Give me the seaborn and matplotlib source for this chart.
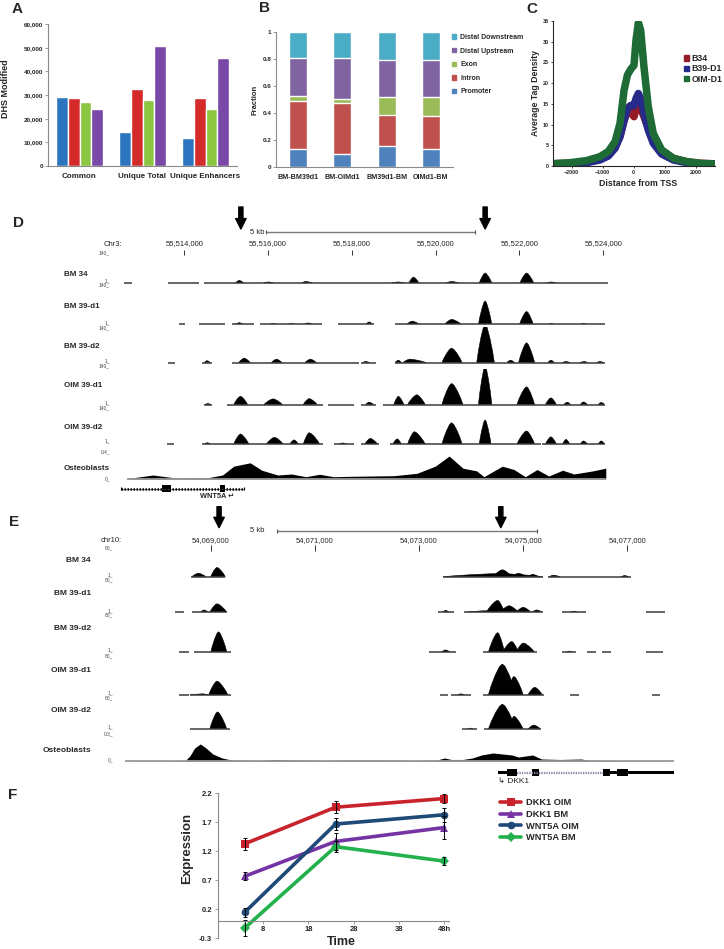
import matplotlib
matplotlib.use("Agg")
import matplotlib.pyplot as plt
from matplotlib.lines import Line2D
from matplotlib.patches import Patch
import pandas as pd
import seaborn as sns

sns.set_style("white")
plt.rcParams["font.family"] = ["Liberation Sans", "DejaVu Sans"]
plt.rcParams["axes.linewidth"] = 0.8

# ---------------- data ----------------
# A: DHS counts
dhs_groups = ["Common", "Unique Total", "Unique Enhancers"]
dhs_sets = ["set1", "set2", "set3", "set4"]
dhs_set1 = [29000, 14300, 12000]
dhs_set2 = [28800, 32700, 28700]
dhs_set3 = [27000, 28000, 24200]
dhs_set4 = [24200, 50800, 45500]
dhs_colors = ["#2C74BE", "#D42A2A", "#8CC540", "#7A48A6"]

# B: genomic distribution (fractions)
region_samples = ["BM-BM39d1", "BM-OIMd1", "BM39d1-BM", "OIMd1-BM"]
frac_promoter = [0.135, 0.10, 0.155, 0.135]
frac_intron = [0.355, 0.375, 0.23, 0.24]
frac_exon = [0.035, 0.03, 0.13, 0.145]
frac_upstream = [0.285, 0.30, 0.28, 0.275]
frac_downstream = [0.19, 0.195, 0.205, 0.205]
region_names = ["Promoter", "Intron", "Exon", "Distal Upstream", "Distal Downstream"]
region_colors = ["#4F81BD", "#C0504D", "#9BBB59", "#8064A2", "#4BACC6"]

# C: tag density around TSS
tss_pos = [-2540, -2050, -1520, -1090, -820, -600, -440, -310, -200, -100, 10,
           75, 150, 225, 330, 470, 630, 900, 1280, 1710, 2140, 2570]
tag_b34 = [0.55, 0.65, 0.95, 1.6, 2.65, 4.5, 7.2, 10.9, 13.5, 13.0, 11.9,
           13.9, 14.7, 13.9, 11.9, 9.1, 6.3, 3.7, 1.85, 1.05, 0.65, 0.55]
tag_b39 = [0.5, 0.55, 0.8, 1.45, 2.4, 4.3, 7.1, 11.1, 13.9, 14.6, 14.6,
           16.3, 17.5, 16.3, 12.7, 8.7, 5.5, 2.9, 1.45, 0.8, 0.55, 0.5]
tag_oim = [0.6, 0.8, 1.3, 2.25, 3.5, 5.9, 10.3, 18.3, 22.0, 23.3, 24.3,
           30.4, 34.6, 32.8, 24.0, 14.3, 7.9, 3.9, 1.85, 1.05, 0.65, 0.5]
tag_names = ["B34", "B39-D1", "OIM-D1"]
tag_colors = ["#951B28", "#262A88", "#1E6B35"]

# D: WNT5A locus (kb on chr3); peaks = (start, summit, end, height)
d_ruler_kb = [55514, 55516, 55518, 55520, 55522, 55524]
d_arrow_kb = [55515.35, 55521.18]
d_scalebar_kb = (55515.95, 55520.95)
d_names = ["BM 34", "BM 39-d1", "BM 39-d2", "OIM 39-d1", "OIM 39-d2"]
d_bm34_segments = [(55512.56, 55512.75), (55513.60, 55514.35), (55514.48, 55524.11)]
d_bm34_peaks = [(55515.22, 55515.31, 55515.42, 10), (55515.90, 55516.01, 55516.12, 4),
                (55516.80, 55516.90, 55517.05, 6), (55518.95, 55519.11, 55519.25, 4),
                (55519.36, 55519.47, 55519.60, 23), (55520.25, 55520.38, 55520.55, 6),
                (55521.04, 55521.18, 55521.34, 39), (55522.01, 55522.17, 55522.34, 39),
                (55522.65, 55522.75, 55522.88, 4)]
d_bm39d1_segments = [(55513.88, 55514.02), (55514.35, 55514.96), (55515.13, 55515.66),
                     (55515.81, 55517.28), (55517.67, 55518.53), (55519.03, 55524.03)]
d_bm39d1_peaks = [(55515.22, 55515.31, 55515.42, 7), (55516.02, 55516.12, 55516.22, 4),
                  (55516.46, 55516.56, 55516.66, 4), (55516.85, 55516.95, 55517.08, 6),
                  (55518.33, 55518.41, 55518.50, 10), (55519.30, 55519.44, 55519.62, 13),
                  (55520.21, 55520.38, 55520.62, 20), (55521.02, 55521.18, 55521.34, 92),
                  (55522.00, 55522.17, 55522.33, 51), (55522.68, 55522.75, 55522.85, 4),
                  (55523.45, 55523.53, 55523.62, 4)]
d_bm39d2_segments = [(55513.61, 55513.78), (55514.43, 55514.66), (55515.13, 55518.17),
                     (55518.22, 55518.57), (55519.03, 55524.03)]
d_bm39d2_peaks = [(55514.48, 55514.54, 55514.62, 7), (55515.30, 55515.43, 55515.57, 17),
                  (55516.08, 55516.20, 55516.33, 13), (55516.88, 55517.01, 55517.15, 13),
                  (55518.26, 55518.33, 55518.42, 4), (55519.03, 55519.11, 55519.18, 9),
                  (55519.22, 55519.38, 55519.77, 13), (55520.15, 55520.38, 55520.63, 56),
                  (55520.98, 55521.18, 55521.40, 150), (55521.70, 55521.79, 55521.88, 9),
                  (55521.98, 55522.17, 55522.36, 77), (55522.68, 55522.75, 55522.83, 9),
                  (55523.03, 55523.11, 55523.20, 4), (55523.45, 55523.55, 55523.62, 4),
                  (55523.85, 55523.92, 55524.00, 4)]
d_oim39d1_segments = [(55514.46, 55514.66), (55515.02, 55517.30), (55517.43, 55518.06),
                      (55518.22, 55518.57), (55518.75, 55524.03)]
d_oim39d1_peaks = [(55514.50, 55514.56, 55514.63, 4), (55515.18, 55515.34, 55515.51, 32),
                   (55515.90, 55516.12, 55516.34, 22), (55516.84, 55516.98, 55517.17, 23),
                   (55518.33, 55518.41, 55518.52, 9), (55519.00, 55519.11, 55519.24, 32),
                   (55519.33, 55519.55, 55519.75, 38), (55520.15, 55520.38, 55520.65, 82),
                   (55521.02, 55521.18, 55521.34, 150), (55521.94, 55522.17, 55522.36, 69),
                   (55522.62, 55522.75, 55522.88, 26), (55523.06, 55523.14, 55523.22, 9),
                   (55523.45, 55523.53, 55523.62, 10), (55523.88, 55523.95, 55524.03, 8)]
d_oim39d2_segments = [(55513.58, 55513.75), (55514.43, 55517.30), (55517.58, 55518.06),
                      (55518.22, 55518.64), (55518.92, 55522.51), (55522.53, 55524.03)]
d_oim39d2_peaks = [(55514.49, 55514.55, 55514.62, 5), (55515.18, 55515.34, 55515.54, 39),
                   (55515.96, 55516.15, 55516.36, 26), (55516.52, 55516.62, 55516.72, 16),
                   (55516.84, 55516.98, 55517.23, 44), (55517.70, 55517.78, 55517.86, 4),
                   (55518.31, 55518.44, 55518.61, 22), (55518.98, 55519.08, 55519.18, 20),
                   (55519.33, 55519.49, 55519.75, 48), (55520.15, 55520.38, 55520.63, 83),
                   (55521.04, 55521.18, 55521.32, 94), (55521.94, 55522.17, 55522.36, 51),
                   (55522.62, 55522.75, 55522.88, 28), (55523.03, 55523.11, 55523.20, 18),
                   (55523.45, 55523.53, 55523.62, 12), (55523.88, 55523.95, 55524.03, 12)]
d_osteo_pos = [55512.64, 55513.25, 55513.80, 55514.57, 55514.91, 55515.18, 55515.57,
               55515.85, 55516.23, 55516.56, 55516.90, 55517.23, 55517.56, 55518.00,
               55518.44, 55519.00, 55519.55, 55519.99, 55520.32, 55520.65, 55520.98,
               55521.15, 55521.59, 55521.87, 55522.14, 55522.42, 55522.70, 55523.03,
               55523.30, 55523.75, 55524.06]
d_osteo_val = [0.007, 0.059, 0.015, 0.02, 0.059, 0.19, 0.24, 0.13, 0.059, 0.074,
               0.034, 0.07, 0.034, 0.04, 0.044, 0.049, 0.084, 0.19, 0.34, 0.16, 0.12,
               0.034, 0.19, 0.14, 0.034, 0.14, 0.044, 0.13, 0.074, 0.12, 0.16]
wnt5a_span = (55512.49, 55515.43)
wnt5a_exons = [(55513.47, 55513.69), (55514.84, 55514.96)]

# E: DKK1 locus (kb on chr10)
e_ruler_kb = [54069, 54071, 54073, 54075, 54077]
e_arrow_kb = [54069.16, 54074.57]
e_scalebar_kb = (54070.27, 54075.27)
e_bm34_segments = [(54068.62, 54069.28), (54073.46, 54075.38), (54075.47, 54077.06)]
e_bm34_peaks = [(54068.64, 54068.76, 54068.91, 9), (54069.00, 54069.12, 54069.28, 24),
                (54073.46, 54074.55, 54075.38, 8), (54074.42, 54074.60, 54074.78, 18),
                (54074.78, 54074.91, 54075.05, 9), (54075.09, 54075.18, 54075.30, 6),
                (54075.50, 54075.58, 54075.70, 4), (54076.88, 54076.95, 54077.02, 3)]
e_bm39d1_segments = [(54068.32, 54068.49), (54068.64, 54069.31), (54073.36, 54073.67),
                     (54073.87, 54075.37), (54075.74, 54076.21), (54077.35, 54077.73)]
e_bm39d1_peaks = [(54068.80, 54068.87, 54068.96, 6), (54068.98, 54069.12, 54069.31, 22),
                  (54073.45, 54073.51, 54073.58, 5), (54073.87, 54074.29, 54074.40, 4),
                  (54074.29, 54074.51, 54074.64, 31), (54074.55, 54074.73, 54074.91, 17),
                  (54074.86, 54075.00, 54075.15, 13), (54075.16, 54075.26, 54075.37, 6),
                  (54075.90, 54075.98, 54076.05, 3)]
e_bm39d2_segments = [(54068.40, 54068.58), (54068.67, 54069.38), (54073.20, 54073.71),
                     (54074.22, 54075.26), (54075.75, 54076.02), (54076.23, 54076.39),
                     (54076.51, 54076.69), (54077.35, 54077.68)]
e_bm39d2_peaks = [(54069.00, 54069.15, 54069.31, 53), (54073.42, 54073.51, 54073.60, 6),
                  (54074.33, 54074.51, 54074.64, 51), (54074.60, 54074.78, 54074.91, 28),
                  (54074.86, 54075.00, 54075.22, 24), (54075.82, 54075.89, 54075.96, 3)]
e_oim39d1_segments = [(54068.40, 54068.58), (54068.60, 54069.38), (54073.40, 54073.55),
                      (54073.62, 54074.00), (54074.22, 54075.40), (54075.90, 54076.08),
                      (54077.47, 54077.62)]
e_oim39d1_peaks = [(54068.60, 54068.85, 54068.96, 3), (54068.96, 54069.12, 54069.33, 36),
                   (54073.74, 54073.80, 54073.87, 3), (54074.33, 54074.60, 54074.86, 80),
                   (54074.69, 54074.82, 54075.00, 48), (54075.09, 54075.22, 54075.37, 20)]
e_oim39d2_segments = [(54068.60, 54069.37), (54073.82, 54074.11), (54074.24, 54075.35)]
e_oim39d2_peaks = [(54068.98, 54069.13, 54069.31, 45), (54073.92, 54073.98, 54074.05, 3),
                   (54074.33, 54074.60, 54074.86, 65), (54074.73, 54074.82, 54075.00, 34),
                   (54075.09, 54075.20, 54075.34, 11)]
e_osteo_pos = [54067.36, 54068.51, 54068.60, 54068.69, 54068.80, 54068.91, 54069.04,
               54069.22, 54069.40, 54069.93, 54070.20, 54070.64, 54071.18, 54071.71,
               54072.20, 54072.95, 54073.34, 54073.49, 54073.62, 54073.84, 54074.02,
               54074.20, 54074.42, 54074.60, 54074.78, 54074.91, 54075.18, 54075.35,
               54075.71, 54076.11, 54076.24, 54076.51, 54077.89]
e_osteo_val = [0, 0.006, 0.056, 0.144, 0.189, 0.144, 0.078, 0.033, 0.011, 0.006, 0.017,
               0.011, 0.006, 0.011, 0.011, 0.006, 0.011, 0.033, 0.017, 0.017, 0.033,
               0.067, 0.089, 0.078, 0.067, 0.044, 0.067, 0.022, 0.017, 0.022, 0.011,
               0.006, 0]
dkk1_exons = [(54074.69, 54074.89), (54075.16, 54075.31), (54076.54, 54076.67), (54076.80, 54077.02)]
dkk1_utrs = [(54074.51, 54074.69), (54076.67, 54076.80), (54077.02, 54077.89)]
dkk1_intron = (54074.89, 54076.54)

# F: expression time course
time_h = [4, 24, 48]
expr_names = ["DKK1 OIM", "DKK1 BM", "WNT5A OIM", "WNT5A BM"]
expr_dkk1_oim = [1.33, 1.96, 2.11]
expr_dkk1_bm = [0.77, 1.37, 1.61]
expr_wnt5a_oim = [0.15, 1.67, 1.83]
expr_wnt5a_bm = [-0.12, 1.28, 1.03]
err_dkk1_oim = [0.1, 0.1, 0.07]
err_dkk1_bm = [0.07, 0.15, 0.2]
err_wnt5a_oim = [0.08, 0.1, 0.12]
err_wnt5a_bm = [0.14, 0.1, 0.07]
expr_colors = ["#C8232B", "#7534A3", "#1F4A78", "#22B14C"]
expr_markers = ["s", "^", "o", "D"]

# ---------------- figure ----------------
W, H = 724, 949
fig = plt.figure(figsize=(W / 100, H / 100), dpi=100)


def box(left, top, width, height):
    # axes in pixel units from the top-left corner
    return fig.add_axes([left / W, 1 - (top + height) / H, width / W, height / H])


def label(x, y, s, size=6, bold=True, **kw):
    kw.setdefault("ha", "left")
    kw.setdefault("va", "center")
    fig.text(x / W, 1 - y / H, s, fontsize=size,
             fontweight="bold" if bold else "normal", **kw)


def bold_ticks(ax):
    for t in ax.get_xticklabels() + ax.get_yticklabels():
        t.set_fontweight("bold")


def grey_axes(ax):
    sns.despine(ax=ax)
    for s in ["left", "bottom"]:
        ax.spines[s].set_color("#8a8a8a")
        ax.spines[s].set_linewidth(0.8)


# panel letters
for x, y, s in [(17, 9, "A"), (265, 8, "B"), (532, 9, "C"), (18, 223, "D"),
                (14, 522, "E"), (13, 795, "F")]:
    label(x, y, s, size=11, ha="center")

# ---- A ----
ax = box(48, 24, 189, 142)
df_a = pd.DataFrame({
    "group": dhs_groups * 4,
    "set": [n for n in dhs_sets for _ in dhs_groups],
    "value": dhs_set1 + dhs_set2 + dhs_set3 + dhs_set4,
})
sns.barplot(data=df_a, x="group", y="value", hue="set", palette=dhs_colors,
            width=0.76, gap=0, saturation=1, errorbar=None, legend=False, ax=ax)
ax.set_ylim(0, 60000)
ax.set_yticks(range(0, 60001, 10000))
ax.set_yticklabels([f"{v:,}" for v in range(0, 60001, 10000)])
ax.set_xlabel("")
ax.set_ylabel("")
ax.tick_params(axis="y", labelsize=4.6, length=2, width=0.6, color="#8a8a8a", pad=1.5, left=True)
ax.tick_params(axis="x", labelsize=5.8, length=0, pad=5)
bold_ticks(ax)
grey_axes(ax)
label(6, 89, "DHS Modified", size=6.5, rotation=90, ha="center")

# ---- B ----
ax = box(276, 32, 177, 135)
for i in range(len(region_names) - 1, -1, -1):
    layers = [frac_promoter, frac_intron, frac_exon, frac_upstream, frac_downstream][: i + 1]
    cum = [sum(v) for v in zip(*layers)]
    sns.barplot(x=region_samples, y=cum, color=region_colors[i], width=0.41,
                saturation=1, errorbar=None, ax=ax)
ax.set_ylim(0, 1)
ax.set_yticks([0, 0.2, 0.4, 0.6, 0.8, 1])
ax.set_yticklabels(["0", "0.2", "0.4", "0.6", "0.8", "1"])
ax.tick_params(axis="y", labelsize=4.6, length=2, width=0.6, color="#8a8a8a", pad=1.5, left=True)
ax.tick_params(axis="x", labelsize=5.1, length=0, pad=5)
bold_ticks(ax)
grey_axes(ax)
label(255, 100, "Fraction", size=5.5, rotation=90, ha="center")
handles = [Patch(color=c, label=n) for n, c in zip(region_names, region_colors)][::-1]
fig.legend(handles=handles, loc="upper left", bbox_to_anchor=(452 / W, 1 - 34 / H),
           frameon=False, prop={"size": 5, "weight": "bold"}, handlelength=0.6,
           handleheight=0.6, handletextpad=0.6, labelspacing=0.95, borderpad=0,
           borderaxespad=0)

# ---- C ----
ax = box(553, 21, 162, 145)
for vals, c in zip([tag_b34, tag_b39, tag_oim], tag_colors):
    sns.lineplot(x=tss_pos, y=vals, color=c, linewidth=5.4, ax=ax)
ax.set_xlim(-2600, 2620)
ax.set_ylim(0, 35)
ax.set_xticks([-2000, -1000, 0, 1000, 2000])
ax.set_yticks(range(0, 36, 5))
ax.tick_params(labelsize=3.9, length=1.5, width=0.6, pad=1.5, left=True, bottom=True)
bold_ticks(ax)
sns.despine(ax=ax)
label(535, 93, "Average Tag Density", size=6.3, rotation=90, ha="center")
label(638, 183, "Distance from TSS", size=6.3, ha="center")
handles = [Patch(color=c, label=n) for n, c in zip(tag_names, tag_colors)]
fig.legend(handles=handles, loc="upper left", bbox_to_anchor=(684 / W, 1 - 54 / H),
           frameon=False, prop={"size": 6.3, "weight": "bold"}, handlelength=0.55,
           handleheight=0.55, handletextpad=0.3, labelspacing=0.15, borderpad=0,
           borderaxespad=0)


# ---- genome browser helpers ----
def draw_peaks(ax, segments, peaks):
    for s, e in segments:
        ax.hlines(0, s, e, colors="#3c3c3c", lw=1.1, clip_on=False)
    for s, m, e, h in peaks:
        left, right = m - s, e - m
        xs = [s, s + 0.2 * left, s + 0.5 * left, s + 0.8 * left, m,
              m + 0.2 * right, m + 0.5 * right, m + 0.8 * right, e]
        ys = [0, 0.3 * h, 0.65 * h, 0.92 * h, h, 0.92 * h, 0.65 * h, 0.3 * h, 0]
        ax.fill(xs, ys, color="black", lw=0.4)


def draw_profile(ax, pos, vals):
    ax.hlines(0, pos[0], pos[-1], colors="#9a9a9a", lw=1.3, clip_on=False)
    ax.fill_between(pos, 0, vals, color="black", lw=0)


def header(top, height, xlim, left, width, ruler, arrows, bar, arrow_y, bar_y, tick_y, lab_y):
    hd = box(left, top, width, height)
    hd.set_xlim(*xlim)
    hd.set_ylim(top + height, top)
    hd.axis("off")
    for kb in arrows:
        hd.annotate("", xy=(kb, arrow_y[1]), xytext=(kb, arrow_y[0]),
                    arrowprops=dict(arrowstyle="simple,head_length=0.75,head_width=0.75,tail_width=0.3",
                                    fc="black", ec="black", mutation_scale=10,
                                    shrinkA=0, shrinkB=0))
    hd.plot(bar, [bar_y, bar_y], color="#7a7a7a", lw=1)
    hd.vlines(bar, bar_y - 2, bar_y + 2, color="#555555", lw=0.8)
    hd.vlines(ruler, tick_y[0], tick_y[1], color="#333333", lw=0.7)
    for kb in ruler:
        hd.text(kb, lab_y, f"{round(kb * 1000):,}", ha="center", va="center", fontsize=5.5)
    return hd


# ---- D ----
D_LEFT, D_WIDTH = 80, 535
d_xlim = (55511.51, 55524.28)
header(205, 52, d_xlim, D_LEFT, D_WIDTH, d_ruler_kb, d_arrow_kb, d_scalebar_kb,
       (207, 229), 232.3, (250, 254.5), 244)
label(264, 232.3, "5 kb", size=5.5, bold=False, ha="right")
label(122.7, 244, "Chr3:", size=5.5, bold=False, ha="right")

d_tracks = [(d_bm34_segments, d_bm34_peaks), (d_bm39d1_segments, d_bm39d1_peaks),
            (d_bm39d2_segments, d_bm39d2_peaks), (d_oim39d1_segments, d_oim39d1_peaks),
            (d_oim39d2_segments, d_oim39d2_peaks)]
d_base_y = [283, 324.5, 362.5, 404.5, 444]
d_label_y = [275, 306, 346.7, 386, 427.7]
d_top_lab_y = [252.7, 285.3, 327.7, 366, 408.3]
d_bot_lab_y = [281, 322.7, 360.5, 402.5, 441]
for (segs, peaks), name, by, ly, ty, bt in zip(d_tracks, d_names, d_base_y, d_label_y,
                                                d_top_lab_y, d_bot_lab_y):
    ax = box(D_LEFT, by - 36, D_WIDTH, 36)
    ax.set_xlim(*d_xlim)
    ax.set_ylim(0, 140)
    ax.axis("off")
    draw_peaks(ax, segs, peaks)
    label(64, ly, name, size=5.8)
    label(110, ty, "140_", size=3.5, bold=False, ha="right", color="#444444")
    label(110, bt, "1_", size=3.5, bold=False, ha="right", color="#444444")

ax = box(D_LEFT, 479 - 27, D_WIDTH, 27)
ax.set_xlim(*d_xlim)
ax.set_ylim(0, 0.4)
ax.axis("off")
draw_profile(ax, d_osteo_pos, d_osteo_val)
label(64, 468.3, "Osteoblasts", size=5.8)
label(110, 451.7, "0.4_", size=3.5, bold=False, ha="right", color="#444444")
label(110, 478.7, "0_", size=3.5, bold=False, ha="right", color="#444444")

ax = box(D_LEFT, 483, D_WIDTH, 11)
ax.set_xlim(*d_xlim)
ax.set_ylim(-1, 1)
ax.axis("off")
ax.plot(wnt5a_span, [0, 0], color="#555555", lw=0.6)
ax.plot(wnt5a_span, [0, 0], color="black", lw=1.8, ls=(0, (0.6, 0.6)))
ax.vlines(wnt5a_span, -0.35, 0.35, color="black", lw=0.8)
for s, e in wnt5a_exons:
    ax.fill_between([s, e], -0.6, 0.6, color="black", lw=0)
label(217, 496.7, "WNT5A \u21b5", size=5.3, ha="center")

# ---- E ----
E_LEFT, E_WIDTH = 80, 600
e_xlim = (54066.49, 54078.01)
header(500, 55, e_xlim, E_LEFT, E_WIDTH, e_ruler_kb, e_arrow_kb, e_scalebar_kb,
       (506.7, 527.7), 530.7, (545, 551), 540.7)
label(264, 530.7, "5 kb", size=5.5, bold=False, ha="right")
label(121.3, 540.7, "chr10:", size=5.5, bold=False, ha="right")

e_tracks = [(e_bm34_segments, e_bm34_peaks), (e_bm39d1_segments, e_bm39d1_peaks),
            (e_bm39d2_segments, e_bm39d2_peaks), (e_oim39d1_segments, e_oim39d1_peaks),
            (e_oim39d2_segments, e_oim39d2_peaks)]
e_base_y = [576.7, 612.3, 652.3, 695, 729.3]
e_label_y = [560, 593.3, 628.3, 671, 710]
e_top_lab_y = [548, 580, 615, 656, 698]
e_bot_lab_y = [575, 610.5, 650, 692.5, 727]
for (segs, peaks), name, by, ly, ty, bt in zip(e_tracks, d_names, e_base_y, e_label_y,
                                                e_top_lab_y, e_bot_lab_y):
    ax = box(E_LEFT, by - 31, E_WIDTH, 31)
    ax.set_xlim(*e_xlim)
    ax.set_ylim(0, 80)
    ax.axis("off")
    draw_peaks(ax, segs, peaks)
    label(91, ly, name, size=6, ha="right")
    label(113, ty, "80_", size=3.5, bold=False, ha="right", color="#444444")
    label(113, bt, "1_", size=3.5, bold=False, ha="right", color="#444444")

ax = box(E_LEFT, 761 - 27, E_WIDTH, 27)
ax.set_xlim(*e_xlim)
ax.set_ylim(0, 0.3)
ax.axis("off")
draw_profile(ax, e_osteo_pos, e_osteo_val)
label(91, 750, "Osteoblasts", size=6, ha="right")
label(113, 734, "0.3_", size=3.5, bold=False, ha="right", color="#444444")
label(113, 760, "0_", size=3.5, bold=False, ha="right", color="#444444")

ax = box(E_LEFT, 767, E_WIDTH, 11)
ax.set_xlim(*e_xlim)
ax.set_ylim(-1, 1)
ax.axis("off")
ax.plot(dkk1_intron, [0, 0], color="#8888aa", lw=1.6, ls=(0, (0.6, 0.5)))
for s, e in dkk1_utrs:
    ax.fill_between([s, e], -0.3, 0.3, color="black", lw=0)
for s, e in dkk1_exons:
    ax.fill_between([s, e], -0.6, 0.6, color="black", lw=0)
label(497.7, 782.7, "\u21b3 DKK1", size=6, bold=False)

# ---- F ----
ax = box(217.6, 793.3, 231.4, 145)
series = [(expr_dkk1_oim, err_dkk1_oim), (expr_dkk1_bm, err_dkk1_bm),
          (expr_wnt5a_oim, err_wnt5a_oim), (expr_wnt5a_bm, err_wnt5a_bm)]
for (vals, errs), c, m in zip(series, expr_colors, expr_markers):
    sns.lineplot(x=time_h, y=vals, color=c, marker=m, markersize=5.5, markeredgewidth=0,
                 linewidth=2.6, ax=ax)
for vals, errs in series:
    ax.errorbar(time_h, vals, yerr=errs, fmt="none", ecolor="black", elinewidth=0.7,
                capsize=1.5, capthick=0.7)
ax.set_xlim(-2, 49)
ax.set_ylim(-0.3, 2.2)
ax.set_xticks([8, 18, 28, 38, 48])
ax.set_xticklabels(["8", "18", "28", "38", "48h"])
ax.set_yticks([-0.3, 0.2, 0.7, 1.2, 1.7, 2.2])
ax.set_yticklabels(["-0.3", "0.2", "0.7", "1.2", "1.7", "2.2"])
ax.spines["bottom"].set_position(("data", 0))
ax.tick_params(labelsize=5.5, length=2, width=0.6, color="#8a8a8a", pad=2, left=True, bottom=True)
bold_ticks(ax)
grey_axes(ax)
label(187.5, 848, "Expression", size=9.5, rotation=90, ha="center")
label(341, 942, "Time", size=9, ha="center")
handles = [Line2D([], [], color=c, marker=m, lw=2.6, ms=5.5, mew=0, label=n)
           for n, c, m in zip(expr_names, expr_colors, expr_markers)]
fig.legend(handles=handles, loc="upper left", bbox_to_anchor=(500 / W, 1 - 798 / H),
           frameon=False, prop={"size": 6.7, "weight": "bold"}, handlelength=2.3,
           handletextpad=0.5, labelspacing=0.3, borderpad=0, borderaxespad=0)

fig.savefig("out.png", dpi=100)
